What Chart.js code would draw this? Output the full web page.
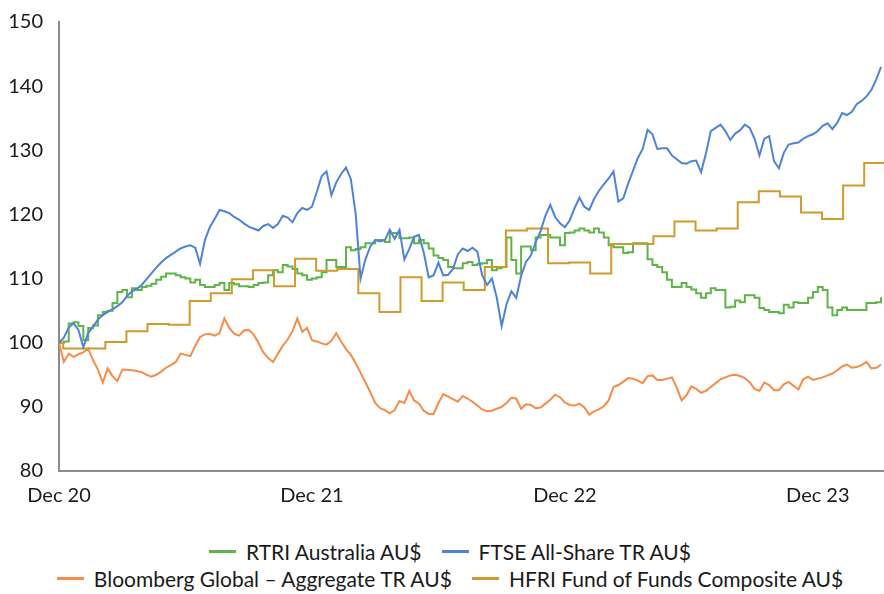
<!DOCTYPE html>
<html>
<head>
<meta charset="utf-8">
<script src="https://cdn.jsdelivr.net/npm/chart.js@4.4.1/dist/chart.umd.min.js"></script>
<style>
body { margin: 0; background: #fff; font-family: Lato, "Open Sans", sans-serif; }
#wrap { position: relative; width: 884px; height: 594px; }
#chart-box { position: absolute; left: 0; top: 0; width: 884px; height: 520px; }
#legend { position: absolute; left: 0; top: 538px; width: 884px; padding-left: 16px; box-sizing: border-box; font-size: 21px; color: #1a1a1a; }
.row { display: flex; justify-content: center; align-items: center; height: 27px; }
.item { display: flex; align-items: center; margin: 0 10px; white-space: nowrap; }
.swatch { width: 27px; height: 3px; margin-right: 10px; }
</style>
</head>
<body>
<div id="wrap">
  <div id="chart-box"><canvas id="perfChart" width="884" height="520"></canvas></div>
  <div id="legend"></div>
</div>
<script>
// x axis: months since Dec 20
const tickMonths = [0, 12, 24, 36];
const tickLabels = ['Dec 20', 'Dec 21', 'Dec 22', 'Dec 23'];
const lastMonth = 39.14;

// weekly index values (start = 100)
const rtriValues = [
    100, 100.2, 103, 103.2, 102.6, 100.4, 102.3, 102.7, 104.3, 104.8,
    105, 106.2, 107.9, 108.2, 107.1, 108.5, 108.2, 108.7, 108.9, 109.2,
    109.8, 110.3, 110.8, 110.8, 110.5, 110.2, 110, 109.4, 109.8, 109,
    108.7, 108.7, 109, 109.3, 108.2, 109.3, 109.1, 108.8, 108.8, 108.7,
    109, 109.3, 109.4, 110.5, 111.3, 111, 112.1, 111.9, 111.5, 110.8,
    110.5, 109.8, 110, 110.2, 111, 112.9, 112.9, 111.8, 111.8, 114.9,
    114.4, 114.6, 114.9, 115.5, 115.5, 116, 116, 115.7, 117.1, 117.1,
    116.3, 116.3, 116.4, 115.5, 116, 115.5, 114.7, 113.6, 113.2, 112.9,
    111.8, 111.6, 111.6, 112.4, 112.6, 112.1, 112.3, 112.4, 112.9, 111.3,
    111.6, 111.8, 116.4, 112.9, 110.8, 115, 115, 114.4, 116.4, 116.8,
    116.8, 116.4, 116.4, 115.2, 117.1, 117.2, 117.5, 117.8, 117.5, 117.2,
    117.8, 117.2, 116.4, 115.2, 114.9, 114.9, 114, 114.1, 115.5, 115.5,
    115.5, 113, 112.1, 111.8, 111, 109.8, 108.7, 108.7, 109.3, 108.7,
    108.3, 107.7, 107, 107.7, 108.5, 108.2, 108.2, 105.5, 105.6, 106.6,
    106.3, 107.4, 107.4, 107, 105.4, 105.1, 104.8, 104.8, 104.6, 105.9,
    105.5, 106.3, 106.2, 106.2, 107, 107.9, 108.7, 108.2, 105.5, 104.3,
    105.1, 105.5, 105.1, 105.1, 105.1, 105.1, 106.2, 106.2, 106.3, 107.1
];

const ftseValues = [
    100, 100.8, 102.4, 103, 102, 99.3, 101.5, 102.5, 103.6, 104.3,
    104.8, 105.2, 105.7, 106.3, 107.3, 108, 108.4, 109, 109.9, 110.8,
    111.7, 112.5, 113.2, 113.7, 114.2, 114.7, 115, 115.2, 114.8, 112.3,
    116, 118, 119.3, 120.7, 120.5, 120.2, 119.6, 119.2, 118.6, 118.1,
    117.8, 117.5, 118.2, 118.5, 117.9, 118.5, 119.8, 119.5, 118.8, 120.2,
    121, 120.7, 121.2, 123.5, 126, 126.7, 123, 125, 126.3, 127.3,
    125.5, 120, 110, 113, 115, 116, 115.8, 116, 117.6, 116.2,
    117.6, 113, 114.6, 116.5, 116.8, 114, 110.2, 110.5, 112.5, 110.5,
    110.6, 111.5, 113.8, 114.7, 114.3, 114.8, 114.2, 110.5, 109, 110,
    107, 102.6, 106, 108, 107, 110.4, 112.6, 113.6, 115.7, 117.4,
    119.8, 121.5, 119.6, 118.6, 118, 119.1, 121, 122.6, 121.2, 120.7,
    122.4, 123.7, 124.7, 125.6, 126.7, 122, 122.5, 124.8, 126.8, 128.8,
    130.2, 133.2, 132.5, 130.2, 130.3, 130.3, 129.2, 128.6, 128, 127.9,
    128.3, 128.4, 126.6, 129.5, 133, 133.5, 134, 133, 131.6, 132.6,
    133.1, 134, 133.5, 131.8, 129.2, 131.8, 132.2, 128.3, 127.2, 129.6,
    130.9, 131.1, 131.2, 131.8, 132.2, 132.5, 133, 133.8, 134.2, 133.3,
    134.3, 135.8, 135.5, 136, 137.2, 137.7, 138.4, 139.4, 141, 143
];

const bloombergValues = [
    100, 97, 98.3, 97.8, 98.2, 98.5, 99.1, 97.3, 95.8, 93.8,
    96, 94.8, 94, 95.8, 95.8, 95.7, 95.6, 95.4, 95, 94.7,
    95, 95.5, 96.1, 96.5, 97, 98.3, 98.1, 97.9, 99.5, 100.9,
    101.3, 101.4, 101.1, 101.5, 103.8, 102.3, 101.4, 101.1, 101.9, 102,
    101.3, 100, 98.5, 97.6, 97, 98.3, 99.5, 100.5, 101.8, 103.8,
    101.7, 102.3, 100.4, 100.2, 99.9, 99.7, 100.3, 101.5, 100.2, 99,
    98.1, 96.8, 95.3, 93.8, 92.3, 90.6, 89.8, 89.5, 89, 89.5,
    90.9, 90.6, 92.5, 91, 90.5, 89.4, 88.9, 88.9, 90.6, 92,
    91.6, 91.2, 90.8, 91.7, 91.3, 90.8, 90.2, 89.6, 89.3, 89.4,
    89.7, 90, 90.6, 91.4, 91.3, 89.7, 90.4, 90.3, 89.8, 89.9,
    90.5, 91.1, 91.9, 91.5, 90.7, 90.3, 90.2, 90.5, 89.9, 88.8,
    89.3, 89.6, 90.1, 91, 93.1, 93.4, 93.9, 94.5, 94.4, 94.1,
    93.7, 94.8, 94.9, 94.2, 94.2, 94.4, 94.6, 93, 91, 91.8,
    93.2, 92.8, 92.2, 92.5, 93.1, 93.7, 94.3, 94.6, 94.9, 95,
    94.8, 94.5, 93.8, 92.8, 92.5, 93.8, 93.4, 92.6, 92.6, 93.5,
    93.9, 93.3, 92.7, 94.3, 94.7, 94.2, 94.4, 94.6, 94.9, 95.2,
    95.7, 96.3, 96.6, 96.1, 96.2, 96.5, 97, 96, 96.1, 96.6
];

// monthly HFRI levels, first = start value, last = end of series
const hfriValues = [
    100, 99.1, 99.1, 100.1, 101.8, 102.9, 102.8, 106.5, 107.7, 109.9,
    111.3, 108.8, 113.1, 111.2, 111.5, 107.7, 104.8, 110.2, 106.5, 109.4,
    108.2, 111.8, 117.5, 117.8, 112.4, 112.5, 110.8, 115.4, 115.4, 116.6,
    118.9, 117.5, 117.8, 121.9, 123.6, 122.8, 120.3, 119.3, 124.5, 128,
    128
];

const seriesNames = ['RTRI Australia AU$', 'FTSE All-Share TR AU$', 'Bloomberg Global \u2013 Aggregate TR AU$', 'HFRI Fund of Funds Composite AU$'];
const seriesColors = ['#5eb446', '#4f83d5', '#f78b48', '#cf9a2e'];

const weekly = vals => vals.map((v, i) => ({ x: i * 12 / 52, y: v }));
const monthly = vals => vals.map((v, i) => ({
    x: i === 0 ? 0 : (i === vals.length - 1 ? lastMonth : i - 1 + 0.2),
    y: v
}));

const ctx = document.getElementById('perfChart').getContext('2d');
new Chart(ctx, {
    type: 'line',
    data: {
        datasets: [
            { label: seriesNames[0], data: weekly(rtriValues), borderColor: seriesColors[0], stepped: true, order: 2 },
            { label: seriesNames[1], data: weekly(ftseValues), borderColor: seriesColors[1], order: 0 },
            { label: seriesNames[2], data: weekly(bloombergValues), borderColor: seriesColors[2], order: 3 },
            { label: seriesNames[3], data: monthly(hfriValues), borderColor: seriesColors[3], stepped: true, order: 1 }
        ]
    },
    options: {
        responsive: false,
        animation: false,
        layout: { padding: { top: 22, right: 0, left: 0, bottom: 0 } },
        elements: {
            line: { borderWidth: 2, tension: 0, fill: false },
            point: { radius: 0 }
        },
        plugins: { legend: { display: false }, tooltip: { enabled: false } },
        scales: {
            x: {
                type: 'linear',
                min: 0,
                max: lastMonth,
                grid: { display: false, drawTicks: false },
                border: { display: true, color: '#8c8c8c', width: 2 },
                afterBuildTicks: scale => { scale.ticks = tickMonths.map(v => ({ value: v })); },
                afterFit: scale => { scale.height = 49; },
                ticks: {
                    autoSkip: false,
                    maxRotation: 0,
                    padding: 13,
                    color: '#1a1a1a',
                    font: { family: 'Lato', size: 20 },
                    callback: v => tickLabels[tickMonths.indexOf(v)]
                }
            },
            y: {
                min: 80,
                max: 150,
                grid: { display: false, drawTicks: false },
                border: { display: true, color: '#8c8c8c', width: 2 },
                afterFit: scale => {
                    scale.width = 59;
                    // label overhang is covered by the layout padding
                    scale.paddingTop = 0;
                    scale.paddingBottom = 0;
                },
                ticks: {
                    stepSize: 10,
                    padding: 16,
                    color: '#1a1a1a',
                    font: { family: 'Lato', size: 20 }
                }
            }
        }
    }
});

// legend in two rows, like the original
const legendRows = [[0, 1], [2, 3]];
const legend = document.getElementById('legend');
legendRows.forEach(row => {
    const rowDiv = document.createElement('div');
    rowDiv.className = 'row';
    row.forEach(i => {
        const item = document.createElement('div');
        item.className = 'item';
        const sw = document.createElement('span');
        sw.className = 'swatch';
        sw.style.background = seriesColors[i];
        const txt = document.createElement('span');
        txt.textContent = seriesNames[i];
        item.appendChild(sw);
        item.appendChild(txt);
        rowDiv.appendChild(item);
    });
    legend.appendChild(rowDiv);
});
</script>
</body>
</html>
